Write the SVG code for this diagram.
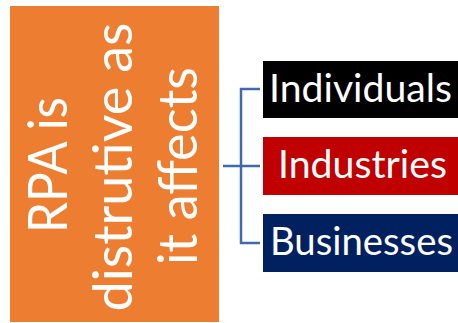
<svg xmlns="http://www.w3.org/2000/svg" width="458" height="323" viewBox="0 0 458 323">
  <style>
    .label { font-family: Lato, "Open Sans", "Noto Sans", sans-serif; fill: #ffffff; }
    .main { font-size: 54px; }
    .item { font-size: 39px; }
    .link { stroke: #4169B0; stroke-width: 2.5; fill: none; }
  </style>
  <rect width="458" height="323" fill="#ffffff"/>

  <!-- central topic, text reads bottom to top -->
  <g id="rpa">
    <rect x="10" y="6" width="209" height="316" fill="#ED7D31"/>
    <text class="label main" text-anchor="middle" transform="translate(67,165) rotate(-90)" textLength="136" lengthAdjust="spacingAndGlyphs">RPA is</text>
    <text class="label main" text-anchor="middle" transform="translate(132,167) rotate(-90)" textLength="289" lengthAdjust="spacingAndGlyphs">distrutive as</text>
    <text class="label main" text-anchor="middle" transform="translate(197,166) rotate(-90)" textLength="198" lengthAdjust="spacingAndGlyphs">it affects</text>
  </g>

  <!-- bracket connectors -->
  <g id="connectors">
    <path class="link" d="M223,166 H260"/>
    <path class="link" d="M260,89 H241 V243 H260"/>
  </g>

  <g id="individuals">
    <rect x="263" y="61" width="195" height="57" fill="#000000"/>
    <text class="label item" x="269" y="102" textLength="183" lengthAdjust="spacingAndGlyphs">Individuals</text>
  </g>

  <g id="industries">
    <rect x="263" y="137" width="195" height="58" fill="#C00000"/>
    <text class="label item" x="278" y="178" textLength="169" lengthAdjust="spacingAndGlyphs">Industries</text>
  </g>

  <g id="businesses">
    <rect x="263" y="214" width="195" height="58" fill="#002060"/>
    <text class="label item" x="270" y="255" textLength="183" lengthAdjust="spacingAndGlyphs">Businesses</text>
  </g>
</svg>
